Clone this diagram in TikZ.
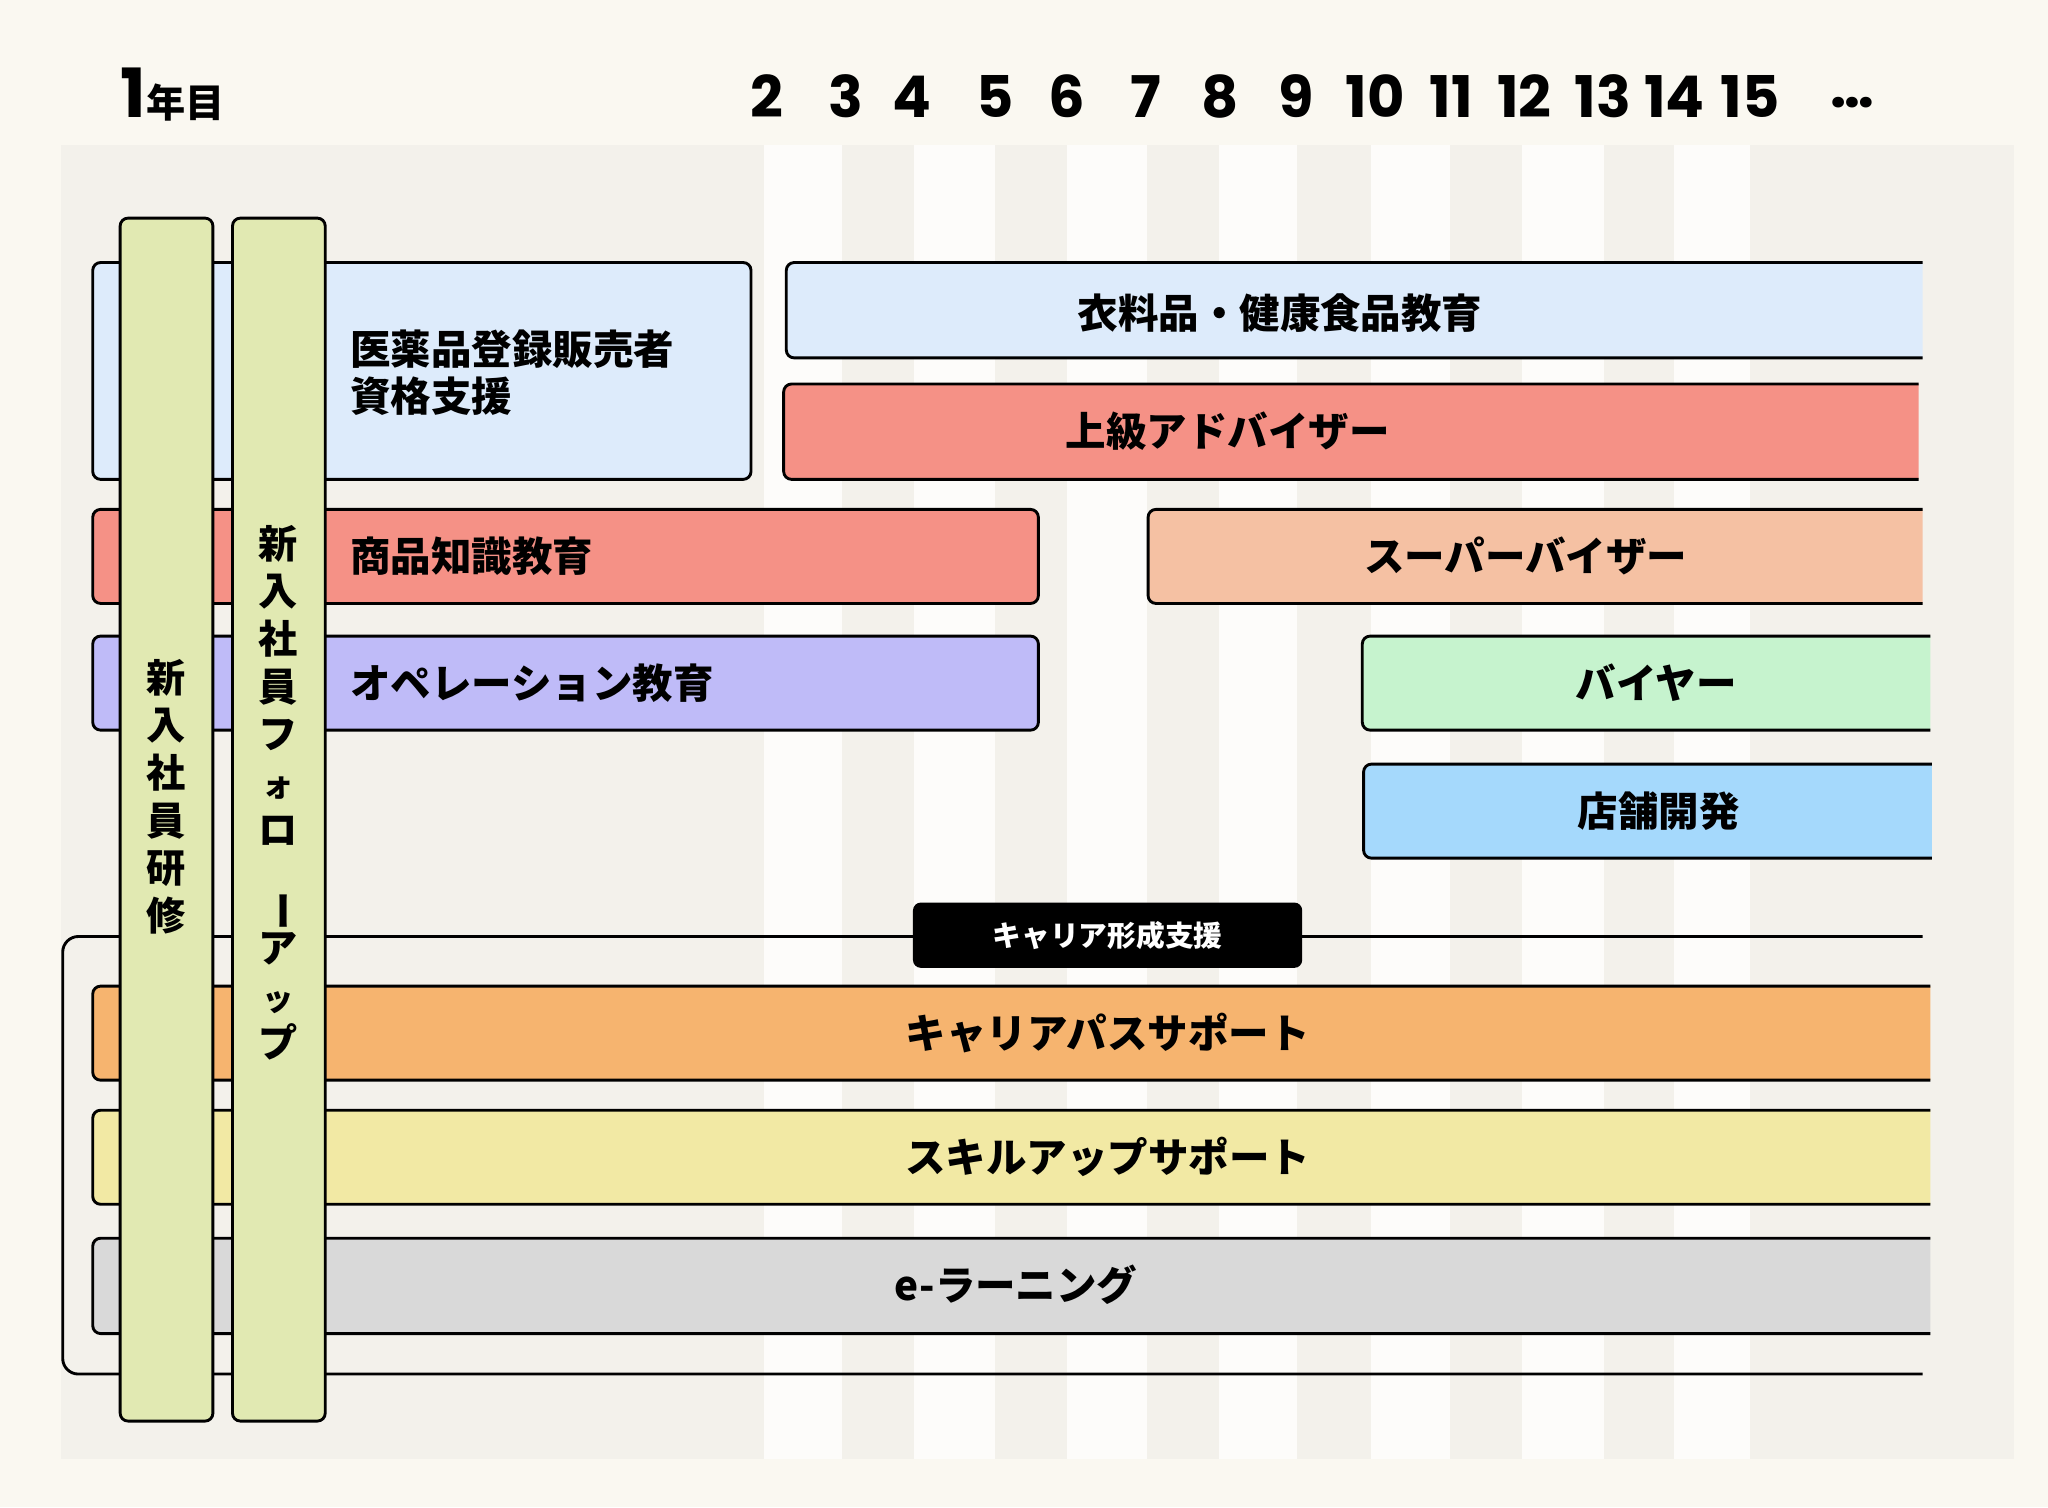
\documentclass[tikz,border=0pt]{standalone}
\usepackage{fontspec}
\setmainfont{Noto Sans CJK JP}
\newfontfamily\pop{Poppins}
\usepackage{graphicx}
\definecolor{pagebg}{HTML}{FAF8F1}
\definecolor{chartbg}{HTML}{F3F1EB}
\definecolor{stripe}{HTML}{FDFCFA}
\definecolor{cblue}{HTML}{DDEBFB}
\definecolor{csalmon}{HTML}{F59186}
\definecolor{cpeach}{HTML}{F5C1A3}
\definecolor{cviolet}{HTML}{BFBBF8}
\definecolor{cmint}{HTML}{C6F3CE}
\definecolor{csky}{HTML}{A5D9FC}
\definecolor{corange}{HTML}{F6B46F}
\definecolor{cyellow}{HTML}{F2E9A4}
\definecolor{cgray}{HTML}{D9D9D9}
\definecolor{cgreen}{HTML}{E1E9B2}
\tikzset{
  box/.style={draw=black, line width=2.2pt, rounded corners=6pt},
  lbl/.style={font=\fontsize{31}{36}\selectfont\bfseries, inner sep=0pt},
  yr/.style={font=\fontsize{44}{50}\selectfont\pop\bfseries, inner sep=0pt},
  vlbl/.style={font=\fontsize{30}{36.5}\selectfont\bfseries, align=center, inner sep=0pt}
}
\begin{document}
\begin{tikzpicture}[x=1pt,y=-1pt]
\useasboundingbox (0,0) rectangle (1568,1154);
\fill[pagebg] (0,0) rectangle (1568,1154);
\fill[chartbg] (47,111) rectangle (1542,1117);
\foreach \a/\b in {585/645,700/762,817/878,933/993,1050/1110,1165/1228,1282/1340}
  \fill[stripe] (\a,111) rectangle (\b,1117);
% year labels
\node[font=\fontsize{52}{56}\selectfont\pop\bfseries, inner sep=0pt, anchor=base west] (y1) at (92,90) {1};
\node[font=\fontsize{30}{34}\selectfont\bfseries, inner sep=0pt, anchor=base west] (y1b) at (y1.base east) {年目};
\foreach \n/\x in {2/587,3/648,4/698,5/762,6/817,7/877,8/934,9/992,10/1053,11/1111,12/1167,13/1227,14/1282,15/1340}
  \node[yr, anchor=base] (yr\n) at (\x,90) {\n};
\node[yr, anchor=base] (yrdots) at (1418,82) {…};
% boxes
\path[box, fill=cblue] (71,201) rectangle (575,367);
\node[lbl, anchor=west, align=left] (iyaku) at (268,285) {医薬品登録販売者\\資格支援};
\path[box, fill=cblue] (1472,201) -- (602,201) -- (602,274) -- (1472,274);
\node[lbl] (iryo) at (980,240) {衣料品・健康食品教育};
\path[box, fill=csalmon] (1469,294) -- (600,294) -- (600,367) -- (1469,367);
\node[lbl] (joukyu) at (940,330) {上級アドバイザー};
\path[box, fill=csalmon] (71,390) rectangle (795,462);
\node[lbl, anchor=west] (shohin) at (268,426) {商品知識教育};
\path[box, fill=cpeach] (1472,390) -- (879,390) -- (879,462) -- (1472,462);
\node[lbl] (super) at (1168,426) {スーパーバイザー};
\path[box, fill=cviolet] (71,487) rectangle (795,559);
\node[lbl, anchor=west] (ope) at (268,523) {オペレーション教育};
\path[box, fill=cmint] (1478,487) -- (1043,487) -- (1043,559) -- (1478,559);
\node[lbl] (buyer) at (1268,523) {バイヤー};
\path[box, fill=csky] (1479,585) -- (1044,585) -- (1044,657) -- (1479,657);
\node[lbl] (tenpo) at (1270,621) {店舗開発};
% bracket
\draw[line width=2.2pt, rounded corners=12pt] (1472,717) -- (48,717) -- (48,1052) -- (1472,1052);
\path[box, fill=corange] (1478,755) -- (71,755) -- (71,827) -- (1478,827);
\node[lbl] (path) at (848,791) {キャリアパスサポート};
\path[box, fill=cyellow] (1478,850) -- (71,850) -- (71,922) -- (1478,922);
\node[lbl] (skill) at (848,886) {スキルアップサポート};
\path[box, fill=cgray] (1478,948) -- (71,948) -- (71,1021) -- (1478,1021);
\node[lbl] (elearn) at (778,984) {e-ラーニング};
\node[fill=black, rounded corners=6pt, minimum width=298pt, minimum height=50pt, inner sep=0pt,
  text=white, font=\fontsize{22}{26}\selectfont\bfseries] (career) at (848,716) {キャリア形成支援};
% vertical bars
\path[box, fill=cgreen] (92,167) rectangle (163,1088);
\path[box, fill=cgreen] (178,167) rectangle (249,1088);
\node[vlbl] (kenshu) at (127,610) {新\\入\\社\\員\\研\\修};
\node[vlbl] (follow) at (213,607) {新\\入\\社\\員\\フ\\{\fontsize{24}{24}\selectfont ォ}\\ロ\\\rotatebox{-90}{ー}\\ア\\{\fontsize{24}{24}\selectfont ッ}\\プ};
\end{tikzpicture}
\end{document}
